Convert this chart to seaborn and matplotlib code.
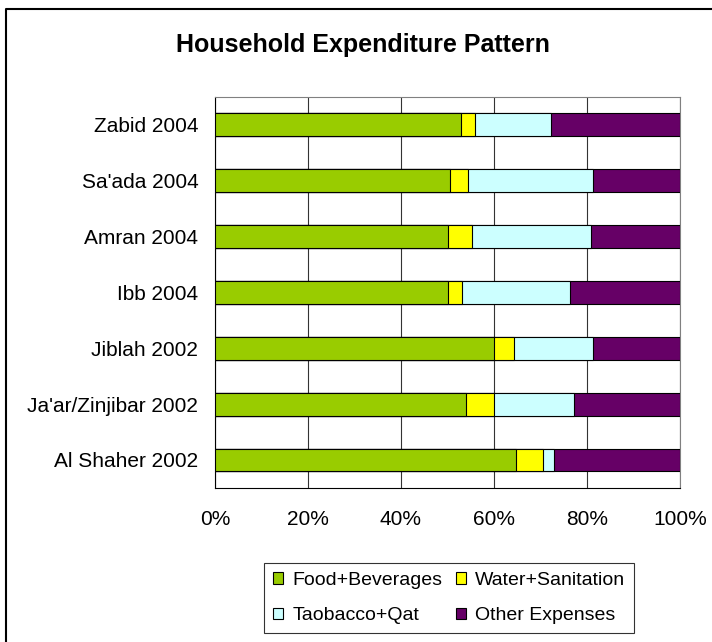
import matplotlib
matplotlib.use("Agg")
import matplotlib.pyplot as plt
import matplotlib.patches as mpatches
from matplotlib.lines import Line2D
import numpy as np
import pandas as pd
import seaborn as sns

# values (percent of household expenditure)
sites = ["Zabid 2004", "Sa'ada 2004", "Amran 2004", "Ibb 2004",
         "Jiblah 2002", "Ja'ar/Zinjibar 2002", "Al Shaher 2002"]
food = [53.0, 50.6, 50.2, 50.2, 60.1, 53.9, 64.7]
water = [3.0, 3.8, 5.0, 2.9, 4.3, 6.2, 5.8]
tobacco = [16.3, 27.0, 25.7, 23.2, 17.0, 17.1, 2.4]
other = [27.7, 18.6, 19.1, 23.7, 18.6, 22.8, 27.1]

series = ["Food+Beverages", "Water+Sanitation", "Taobacco+Qat", "Other Expenses"]
colors = ["#99CC00", "#FFFF00", "#CCFFFF", "#660066"]

sns.set_theme(style="white")
plt.rcParams["font.family"] = ["Liberation Sans", "DejaVu Sans"]
plt.rcParams["text.color"] = "black"
plt.rcParams["xtick.color"] = "black"
plt.rcParams["ytick.color"] = "black"

df = pd.DataFrame({"site": sites, "food": food, "water": water,
                   "tobacco": tobacco, "other": other})
totals = df[["food", "water", "tobacco", "other"]].sum(axis=1)
# normalise to 100% and build cumulative columns for stacking
shares = df[["food", "water", "tobacco", "other"]].div(totals, axis=0) * 100
cum = shares.cumsum(axis=1)

fig = plt.figure(figsize=(7.12, 6.42), dpi=100)
ax = fig.add_axes([0.302, 0.240, 0.653, 0.609])

# draw from the full bar down so each segment sits on the previous ones
for col, color in zip(["other", "tobacco", "water", "food"], colors[::-1]):
    sns.barplot(x=cum[col], y=df["site"], orient="h", color=color,
                edgecolor="black", linewidth=0.8, width=0.41,
                saturation=1, ax=ax, zorder=3)

ax.set_xlim(0, 100)
ax.set_ylim(6.5, -0.5)
ax.set_xticks(np.arange(0, 101, 20))
ax.set_xticklabels([f"{v}%" for v in range(0, 101, 20)], fontsize=15)
ax.set_xlabel("")
ax.set_ylabel("")
ax.tick_params(axis="y", which="major", length=0, pad=12, labelsize=15, labelcolor="black")
ax.set_yticks(np.arange(-0.5, 7, 1), minor=True)
ax.tick_params(axis="y", which="minor", length=4, direction="out", color="black", width=0.8)
ax.tick_params(axis="x", which="major", length=4, direction="out", color="black", width=0.8,
               pad=12, labelcolor="black")
ax.xaxis.grid(True, color="#333333", linewidth=0.8, zorder=0)
ax.set_axisbelow(True)
for side in ["left", "bottom"]:
    ax.spines[side].set_color("black")
    ax.spines[side].set_linewidth(0.8)
for side in ["top", "right"]:
    ax.spines[side].set_color("#808080")
    ax.spines[side].set_linewidth(0.8)

fig.text(0.510, 1 - 52 / 642, "Household Expenditure Pattern", ha="center", va="baseline",
         fontsize=18, fontweight="bold", color="black")

handles = [mpatches.Patch(facecolor=c, edgecolor="black", linewidth=0.8, label=s)
           for s, c in zip(series, colors)]
# matplotlib fills legend columns first, so reorder to read row by row
order = [0, 2, 1, 3]
leg = fig.legend([handles[i] for i in order], [series[i] for i in order],
                 ncol=2, loc="center", bbox_to_anchor=(449 / 712, 0.0685),
                 fontsize=14, frameon=True, fancybox=False, edgecolor="black",
                 handlelength=0.55, handleheight=0.55, handletextpad=0.45,
                 columnspacing=0.7, labelspacing=0.95, borderpad=0.45)
leg.get_frame().set_linewidth(0.8)
for t in leg.get_texts():
    t.set_color("black")

# chart-area border: only its left and top edges fall inside the picture
bx, by = 6 / 712, 1 - 9 / 642
fig.add_artist(Line2D([bx, bx, 1.0], [0.0, by, by], transform=fig.transFigure,
                      color="black", linewidth=1.5))

fig.savefig("out.png", dpi=100)
